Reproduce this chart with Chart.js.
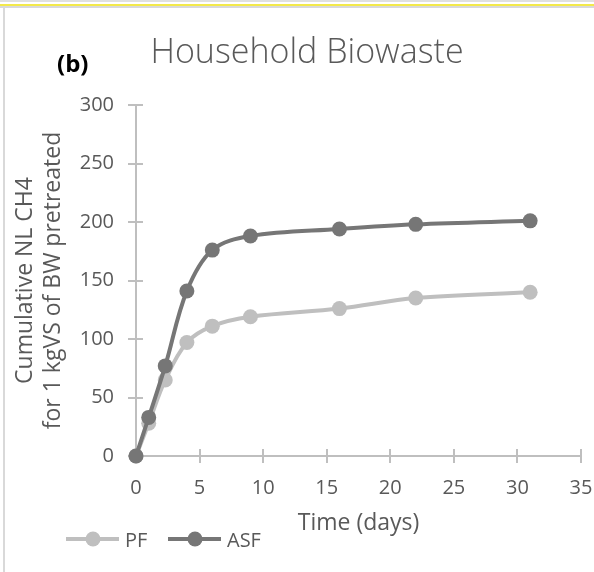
<!DOCTYPE html>
<html>
<head>
<meta charset="utf-8">
<script src="https://cdn.jsdelivr.net/npm/chart.js@4/dist/chart.umd.min.js"></script>
<style>
  html, body { margin: 0; padding: 0; background: #fff; }
  #wrap { position: relative; width: 594px; height: 572px; }
</style>
</head>
<body>
<div id="wrap"><canvas id="c" width="594" height="572"></canvas></div>
<script>
// values (days, NL CH4 per kgVS)
const days = [0, 1, 2.3, 4, 6, 9, 16, 22, 31];
const pfValues = [0, 28, 65, 97, 111, 119, 126, 135, 140];
const asfValues = [0, 33, 77, 141, 176, 188, 194, 198, 201];
const seriesNames = ['PF', 'ASF'];
const seriesColors = ['#bfbfbf', '#767676'];

const FONT = '"Open Sans", "DejaVu Sans", sans-serif';
const TEXT = '#595959';
const AXIS = '#bfbfbf';

const toPoints = (vals) => vals.map((v, i) => ({ x: days[i], y: v }));

// frame lines, title, panel letter, custom legend
const decor = {
  id: 'decor',
  beforeDraw(chart) {
    const c = chart.ctx;
    c.save();
    c.fillStyle = '#fff';
    c.fillRect(0, 0, chart.width, chart.height);
    c.fillStyle = '#e0e0e0';
    c.fillRect(0, 0, chart.width, 2);
    c.fillStyle = '#f3e94a';
    c.fillRect(0, 4, chart.width, 2);
    c.fillStyle = '#d9d9d9';
    c.fillRect(0, 6, chart.width, 2);
    c.fillRect(3, 8, 2, chart.height - 8);
    c.restore();
  },
  beforeDatasetsDraw(chart) {
    // inner halves of the cross tick marks
    const c = chart.ctx;
    const { x, y } = chart.scales;
    c.save();
    c.strokeStyle = AXIS;
    c.lineWidth = 2;
    c.beginPath();
    y.ticks.forEach((t) => {
      const py = Math.round(y.getPixelForValue(t.value));
      c.moveTo(y.right, py);
      c.lineTo(y.right + 7, py);
    });
    x.ticks.forEach((t) => {
      const px = Math.round(x.getPixelForValue(t.value));
      c.moveTo(px, x.top);
      c.lineTo(px, x.top - 7);
    });
    c.stroke();
    c.restore();
  },
  afterDraw(chart) {
    const c = chart.ctx;
    c.save();
    c.fillStyle = TEXT;
    c.textBaseline = 'alphabetic';
    c.textAlign = 'center';
    c.font = '300 34px ' + FONT;
    c.fillText('Household Biowaste', 307, 63);

    c.fillStyle = '#000';
    c.textAlign = 'left';
    c.font = 'bold 24px ' + FONT;
    c.fillText('(b)', 57, 72);

    // legend
    const starts = [66, 168];
    chart.data.datasets.forEach((ds, i) => {
      const x0 = starts[i];
      const ly = 539;
      c.strokeStyle = ds.borderColor;
      c.lineWidth = 4;
      c.beginPath();
      c.moveTo(x0, ly);
      c.lineTo(x0 + 53, ly);
      c.stroke();
      c.fillStyle = ds.borderColor;
      c.beginPath();
      c.arc(x0 + 27, ly, 7.5, 0, Math.PI * 2);
      c.fill();
      c.fillStyle = TEXT;
      c.font = '20px ' + FONT;
      c.textAlign = 'left';
      c.fillText(ds.label, x0 + 59, 547);
    });
    c.restore();
  },
};

new Chart(document.getElementById('c'), {
  type: 'line',
  data: {
    datasets: [
      {
        label: seriesNames[0],
        data: toPoints(pfValues),
        borderColor: seriesColors[0],
        backgroundColor: seriesColors[0],
        borderWidth: 4,
        pointRadius: 7.5,
        pointBorderWidth: 0,
        tension: 0.35,
        clip: false,
        order: 1,
      },
      {
        label: seriesNames[1],
        data: toPoints(asfValues),
        borderColor: seriesColors[1],
        backgroundColor: seriesColors[1],
        borderWidth: 4,
        pointRadius: 7.5,
        pointBorderWidth: 0,
        tension: 0.35,
        clip: false,
        order: 0,
      },
    ],
  },
  options: {
    responsive: false,
    animation: false,
    layout: { padding: { top: 105, left: 6, right: 13, bottom: 0 } },
    plugins: {
      legend: { display: false },
      tooltip: { enabled: false },
    },
    scales: {
      x: {
        type: 'linear',
        min: 0,
        max: 35,
        ticks: { stepSize: 5, color: TEXT, font: { family: FONT, size: 20 }, padding: 13 },
        grid: { drawOnChartArea: false, color: AXIS, lineWidth: 2, tickLength: 7 },
        border: { color: AXIS, width: 2 },
        title: {
          display: true,
          text: 'Time (days)',
          color: TEXT,
          font: { family: FONT, size: 23, lineHeight: 1.2 },
          padding: { top: 0, bottom: 35 },
        },
        afterFit(s) {
          s.height = 116;
          s.paddingLeft = 0;
          s.paddingRight = 0;
        },
      },
      y: {
        min: 0,
        max: 300,
        ticks: { stepSize: 50, color: TEXT, font: { family: FONT, size: 20 }, padding: 14 },
        grid: { drawOnChartArea: false, color: AXIS, lineWidth: 2, tickLength: 8 },
        border: { color: AXIS, width: 2 },
        title: {
          display: true,
          text: ['Cumulative NL CH4', 'for 1 kgVS of BW pretreated'],
          color: TEXT,
          font: { family: FONT, size: 23, lineHeight: 1.22 },
          padding: { top: 5, bottom: 0 },
        },
        afterFit(s) { s.width = 130; },
      },
    },
  },
  plugins: [decor],
});
</script>
</body>
</html>
